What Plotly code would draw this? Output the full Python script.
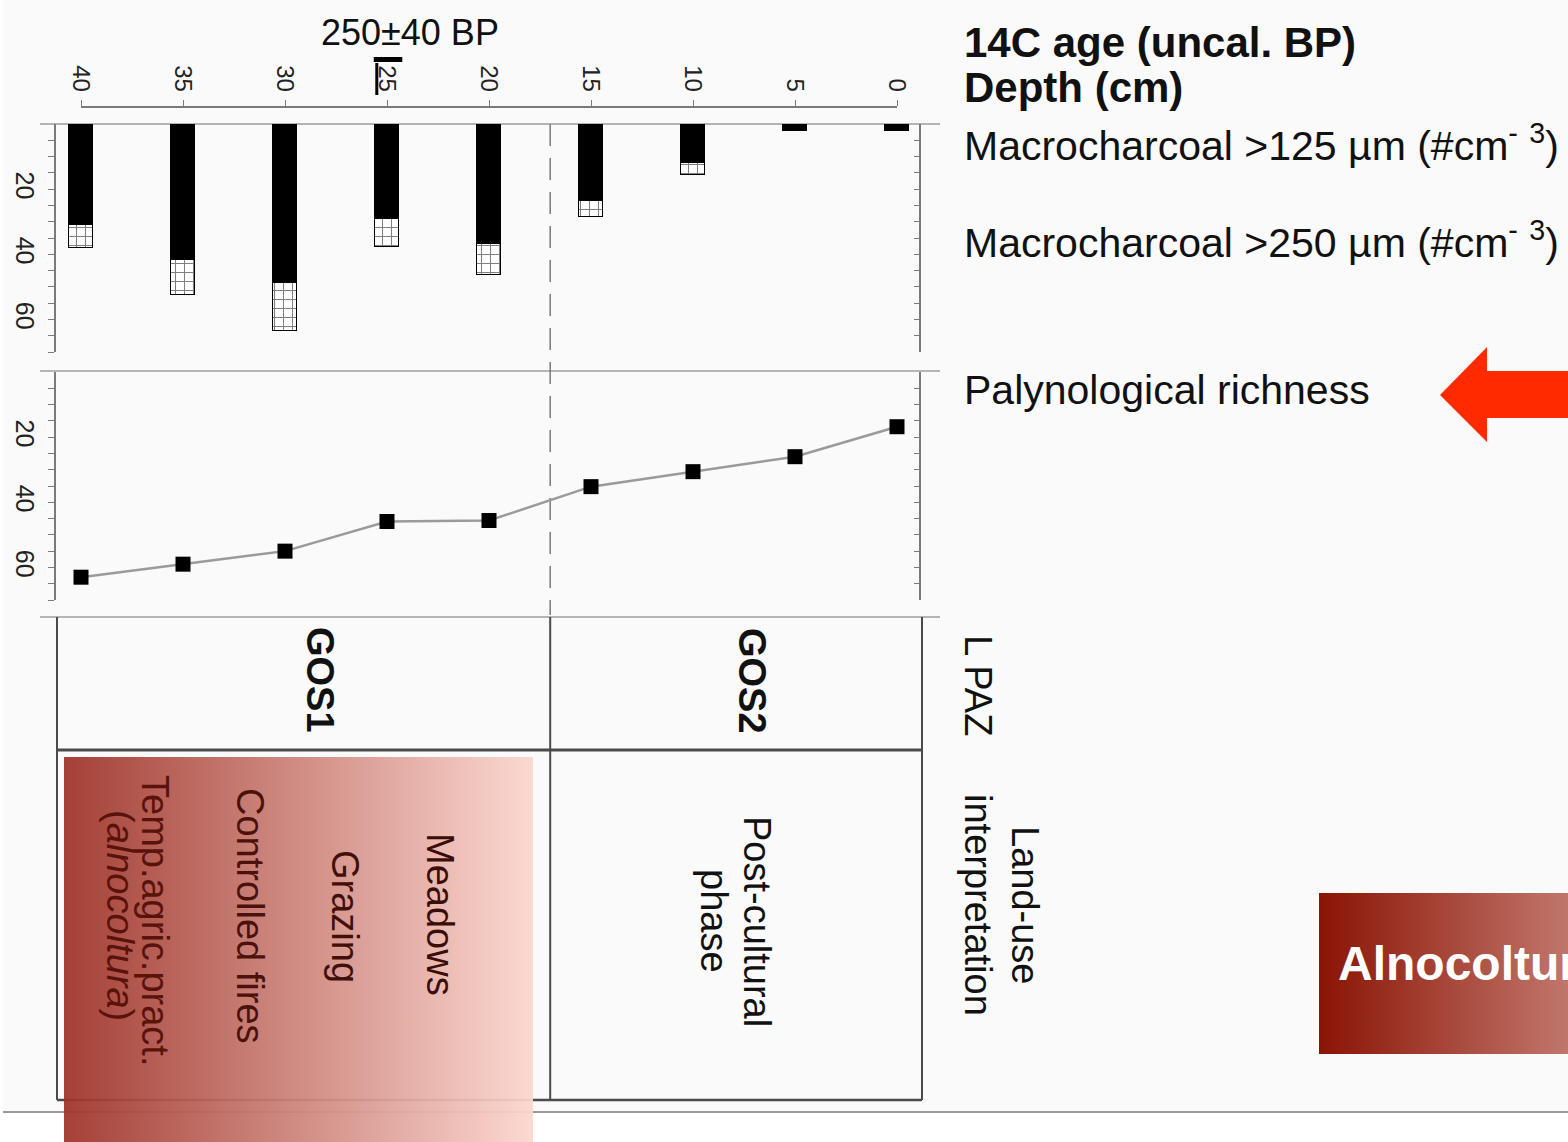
import plotly.graph_objects as go

W, H = 1568, 1142
FONT = "Liberation Sans"

# ---------------- data ----------------
depth = [40, 35, 30, 25, 20, 15, 10, 5, 0]
charcoal_125 = [31.0, 41.6, 48.7, 29.2, 36.9, 23.6, 12.1, 2.0, 2.0]   # black segment
charcoal_250 = [7.1, 10.8, 14.7, 8.5, 9.6, 5.1, 3.6, 0.0, 0.0]        # hatched segment
richness = [63.0, 59.0, 55.0, 45.9, 45.6, 35.2, 30.6, 26.0, 16.8]
zone_boundary = 17.0
date_depth = 25.5
date_label = "250±40 BP"
depth_ticks = [0, 5, 10, 15, 20, 25, 30, 35, 40]
value_ticks = [20, 40, 60]
minor_value_ticks = [5, 10, 15, 20, 25, 30, 35, 40, 45, 50, 55, 60, 65, 70]
value_max = 70
zone_names = ["GOS1", "GOS2"]

# ---------------- helpers (pixel -> paper) ----------------
def px(x):
    return x / W

def py(y):
    return 1 - y / H

PPC = 20.4            # pixels per cm of depth
X0 = 897              # pixel of depth 0
depth_range = [X0 / PPC, (X0 - W) / PPC]

fig = go.Figure()

# charcoal bars (stacked, reversed y -> hang from top)
fig.add_trace(go.Bar(x=depth, y=charcoal_125, width=1.18, xaxis="x", yaxis="y",
                     marker=dict(color="black", line=dict(color="black", width=1)),
                     name="Macrocharcoal >125 µm", showlegend=False, hoverinfo="skip"))
fig.add_trace(go.Bar(x=depth, y=charcoal_250, width=1.18, xaxis="x", yaxis="y",
                     marker=dict(color="white", line=dict(color="black", width=1.2),
                                 pattern=dict(shape="+", fgcolor="black", bgcolor="white",
                                              size=9, solidity=0.22)),
                     name="Macrocharcoal >250 µm", showlegend=False, hoverinfo="skip"))

# palynological richness
fig.add_trace(go.Scatter(x=depth, y=richness, xaxis="x", yaxis="y4", mode="lines+markers",
                         line=dict(color="#9a9a9a", width=2.5),
                         marker=dict(symbol="square", size=15, color="black"),
                         showlegend=False, hoverinfo="skip"))

# dummy traces to activate helper axes
for xa, ya in [("x2", "y"), ("x", "y3"), ("x", "y5")]:
    fig.add_trace(go.Scatter(x=[None], y=[None], xaxis=xa, yaxis=ya, mode="markers",
                             showlegend=False, hoverinfo="skip"))

# canvas decorations (gradient boxes, arrow) in pixel coordinates
def poly(xs, ys, **kw):
    fig.add_trace(go.Scatter(x=xs, y=ys, xaxis="x3", yaxis="y6", mode="lines",
                             fill="toself", line=dict(width=0), showlegend=False,
                             hoverinfo="skip", **kw))

poly([64, 533, 533, 64, 64], [757, 757, 1142, 1142, 757],
     fillgradient=dict(type="horizontal",
                       colorscale=[[0, "rgba(158,50,40,0.93)"], [1, "rgba(252,214,206,0.93)"]]))
poly([1319, 1568, 1568, 1319, 1319], [893, 893, 1054, 1054, 893],
     fillgradient=dict(type="horizontal",
                       colorscale=[[0, "#8a1405"], [1, "#c1766b"]]))
poly([1440, 1487, 1487, 1568, 1568, 1487, 1487, 1440],
     [395, 347, 371, 371, 418, 418, 442, 395], fillcolor="#ff2a00")

axis_col = "#7a7a7a"
tickfont = dict(family=FONT, size=24, color="#222")
ytickfont = dict(family=FONT, size=25, color="#222")

def left_axis(domain_px, **kw):
    d = dict(domain=[py(domain_px[1]), py(domain_px[0])], range=[value_max, 0],
             anchor="free", position=px(55), side="left", showline=True, automargin=False,
             linecolor=axis_col, linewidth=1.5, ticks="outside", ticklen=6,
             tickcolor=axis_col, tickwidth=1.2, tickmode="array", tickvals=value_ticks,
             tickangle=90, tickfont=ytickfont, showgrid=False, zeroline=False,
             ticklabelstandoff=2,
             minor=dict(tickmode="array", tickvals=minor_value_ticks, ticks="outside",
                        ticklen=6, tickcolor=axis_col, tickwidth=1.2, showgrid=False))
    d.update(kw)
    return d

def right_axis(over):
    return dict(overlaying=over, range=[value_max, 0], anchor="free", position=px(920),
                side="right", showline=True, linecolor=axis_col, linewidth=1.5,
                ticks="inside", ticklen=5, tickcolor=axis_col, tickmode="array",
                tickvals=minor_value_ticks, showticklabels=False, showgrid=False,
                zeroline=False, automargin=False)

fig.update_layout(
    width=W, height=H, margin=dict(l=0, r=0, t=0, b=0, pad=0, autoexpand=False),
    paper_bgcolor="white", plot_bgcolor="rgba(0,0,0,0)",
    barmode="stack", bargap=0, showlegend=False,
    font=dict(family=FONT, color="#111"),
    xaxis=dict(domain=[0, 1], range=depth_range, visible=False, anchor="y", automargin=False),
    xaxis2=dict(domain=[px(81), px(897)], range=[40, 0], side="top", anchor="free",
                position=py(107), showline=True, linecolor=axis_col, linewidth=1.5,
                ticks="outside", ticklen=6, tickcolor=axis_col, tickwidth=1.2,
                tickmode="array", tickvals=depth_ticks, tickangle=90, tickfont=tickfont,
                showgrid=False, zeroline=False, automargin=False),
    xaxis3=dict(domain=[0, 1], range=[0, W], visible=False, anchor="y6", automargin=False),
    yaxis=left_axis([124, 352]),
    yaxis3=right_axis("y"),
    yaxis4=left_axis([372, 600]),
    yaxis5=right_axis("y4"),
    yaxis6=dict(domain=[0, 1], range=[H, 0], visible=False, anchor="x3", automargin=False),
)

shapes = []
def pline(x0, y0, x1, y1, color, width, dash=None, xref="paper"):
    ln = dict(color=color, width=width)
    if dash:
        ln["dash"] = dash
    shapes.append(dict(type="line", xref=xref, yref="paper",
                       x0=px(x0) if xref == "paper" else x0, y0=py(y0),
                       x1=px(x1) if xref == "paper" else x1, y1=py(y1),
                       line=ln, layer="below"))

# slide background
shapes.append(dict(type="rect", xref="paper", yref="paper", x0=px(3), x1=1,
                   y0=py(1112), y1=1, fillcolor="#fafafa", line=dict(width=0), layer="below"))
pline(3, 1112, W, 1112, "#9a9a9a", 2)
# panel separators
for yy in (124, 371, 617):
    pline(40, yy, 940, yy, "#b4b4b4", 2)
# zone table frame
pline(57, 617, 57, 1100, "#4a4a4a", 2)
pline(922, 617, 922, 1100, "#4a4a4a", 2)
pline(57, 750, 922, 750, "#4a4a4a", 3)
pline(57, 1100, 922, 1100, "#4a4a4a", 2.5)
pline(zone_boundary, 617, zone_boundary, 1100, "#4a4a4a", 2, xref="x")
# zone boundary (dashed) through the data panels
pline(zone_boundary, 124, zone_boundary, 615, "#7a7a7a", 1.5, dash="22px,12px", xref="x")
# radiocarbon date marker
pline(date_depth, 63, date_depth, 95, "black", 3, xref="x")
pline(date_depth + 0.15, 59.5, date_depth - 1.25, 59.5, "black", 5, xref="x")
fig.update_layout(shapes=shapes)

ann = []
def text(t, x, y, size, angle=0, color="#111", xanchor="center"):
    ann.append(dict(text=t, x=px(x), y=py(y), xref="paper", yref="paper",
                    showarrow=False, textangle=angle, xanchor=xanchor, yanchor="middle",
                    font=dict(family=FONT, size=size, color=color)))

text(date_label, 410, 32, 36)
text("<b>14C age (uncal. BP)</b>", 962, 42, 42, xanchor="left")
text("<b>Depth (cm)</b>", 962, 87, 42, xanchor="left")
text("Macrocharcoal >125 µm (#cm<sup>-</sup> <sup>3</sup>)", 962, 143, 41, xanchor="left")
text("Macrocharcoal >250 µm (#cm<sup>-</sup> <sup>3</sup>)", 962, 240, 41, xanchor="left")
text("Palynological richness", 962, 390, 41, xanchor="left")
text("L PAZ", 978, 686, 38, angle=90)
text("Land-use", 1025, 905, 38, angle=90)
text("interpretation", 978, 905, 38, angle=90)
text("<b>" + zone_names[0] + "</b>", 320, 680, 38, angle=90)
text("<b>" + zone_names[1] + "</b>", 752, 681, 38, angle=90)
text("Post-cultural", 757, 921, 38, angle=90)
text("phase", 714, 921, 38, angle=90)
text("Meadows", 440, 915, 38, angle=90, color="#3a0d08")
text("Grazing", 345, 916, 38, angle=90, color="#420f09")
text("Controlled fires", 250, 916, 38, angle=90, color="#4c110a")
text("Temp.agric.pract.", 155, 920, 38, angle=90, color="#5a130b")
text("(<i>alnocoltura</i>)", 120, 915, 38, angle=90, color="#5a130b")
text("<b>Alnocoltura</b>", 1336, 963, 48, color="white", xanchor="left")
fig.update_layout(annotations=ann)

fig.write_html("out.html", config={"displayModeBar": False},
               post_script="document.body.style.margin='0px';document.body.style.overflow='hidden';")
